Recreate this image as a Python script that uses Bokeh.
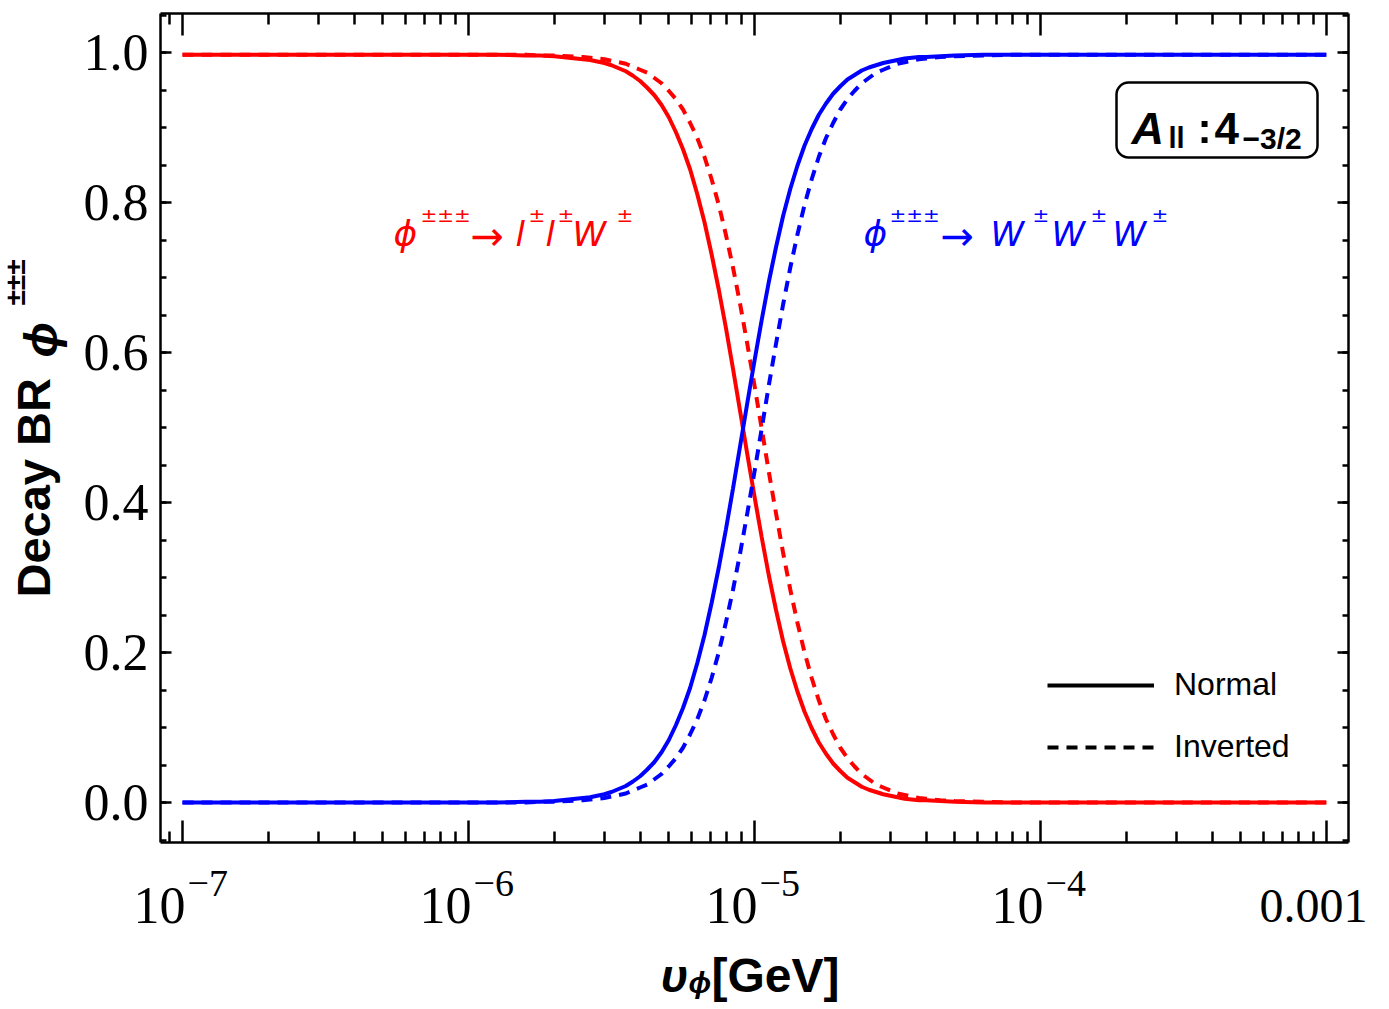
import numpy as np
from bokeh.plotting import figure
from bokeh.models import (LogAxis, LinearAxis, FixedTicker, CustomJSTickFormatter,
                          Label, BoxAnnotation, Legend, LegendItem, Range1d)
from bokeh.embed import file_html
from bokeh.resources import INLINE

# ---------------- data ----------------
log10_u_phi = [-7.0, -6.5, -6.2, -6.0, -5.9, -5.8, -5.75, -5.7, -5.65,
               -5.600, -5.575, -5.550, -5.525, -5.500, -5.475, -5.450, -5.425, -5.400, -5.375,
               -5.350, -5.325, -5.300, -5.275, -5.250, -5.225, -5.200, -5.175, -5.150, -5.125,
               -5.100, -5.075, -5.050, -5.025, -5.000, -4.975, -4.950, -4.925, -4.900, -4.875,
               -4.850, -4.825, -4.800, -4.775, -4.750, -4.725, -4.700, -4.675, -4.650, -4.625,
               -4.600, -4.575, -4.550, -4.525, -4.500, -4.475, -4.450, -4.425, -4.400,
               -4.35, -4.3, -4.2, -4.1, -4.0, -3.8, -3.5, -3.0]

br_llw_normal = [0.997, 0.997, 0.997, 0.997, 0.997, 0.996, 0.996, 0.995, 0.993,
                 0.991, 0.990, 0.988, 0.986, 0.983, 0.979, 0.975, 0.969, 0.962, 0.953,
                 0.943, 0.930, 0.914, 0.894, 0.871, 0.844, 0.811, 0.774, 0.731, 0.684,
                 0.633, 0.578, 0.521, 0.464, 0.408, 0.354, 0.303, 0.257, 0.215, 0.179,
                 0.148, 0.121, 0.099, 0.080, 0.065, 0.052, 0.042, 0.033, 0.027, 0.021,
                 0.017, 0.014, 0.011, 0.009, 0.007, 0.005, 0.004, 0.003, 0.003,
                 0.002, 0.001, 0.000, 0.000, 0.000, 0.000, 0.000, 0.000]

br_www_normal = [0.000, 0.000, 0.000, 0.000, 0.000, 0.001, 0.001, 0.002, 0.004,
                 0.006, 0.007, 0.009, 0.011, 0.014, 0.018, 0.022, 0.028, 0.035, 0.044,
                 0.054, 0.067, 0.083, 0.103, 0.126, 0.153, 0.186, 0.223, 0.266, 0.313,
                 0.364, 0.419, 0.476, 0.533, 0.589, 0.643, 0.694, 0.740, 0.782, 0.818,
                 0.849, 0.876, 0.898, 0.917, 0.932, 0.945, 0.955, 0.964, 0.970, 0.976,
                 0.980, 0.983, 0.986, 0.988, 0.990, 0.992, 0.993, 0.994, 0.994,
                 0.995, 0.996, 0.997, 0.997, 0.997, 0.997, 0.997, 0.997]

br_llw_inverted = [0.997, 0.997, 0.997, 0.997, 0.997, 0.997, 0.996, 0.996, 0.995,
                   0.994, 0.993, 0.992, 0.991, 0.989, 0.987, 0.985, 0.981, 0.977, 0.973,
                   0.966, 0.959, 0.949, 0.938, 0.924, 0.906, 0.886, 0.861, 0.831, 0.797,
                   0.757, 0.713, 0.664, 0.611, 0.556, 0.499, 0.441, 0.386, 0.333, 0.284,
                   0.240, 0.200, 0.166, 0.136, 0.111, 0.091, 0.073, 0.059, 0.048, 0.038,
                   0.031, 0.024, 0.020, 0.016, 0.012, 0.010, 0.008, 0.006, 0.005,
                   0.003, 0.002, 0.001, 0.000, 0.000, 0.000, 0.000, 0.000]

br_www_inverted = [0.000, 0.000, 0.000, 0.000, 0.000, 0.000, 0.001, 0.001, 0.002,
                   0.003, 0.004, 0.005, 0.006, 0.008, 0.010, 0.012, 0.016, 0.020, 0.024,
                   0.031, 0.038, 0.048, 0.059, 0.073, 0.091, 0.111, 0.136, 0.166, 0.200,
                   0.240, 0.284, 0.333, 0.386, 0.441, 0.498, 0.556, 0.611, 0.664, 0.713,
                   0.757, 0.797, 0.831, 0.861, 0.886, 0.906, 0.924, 0.938, 0.949, 0.959,
                   0.966, 0.973, 0.977, 0.981, 0.985, 0.987, 0.989, 0.991, 0.992,
                   0.994, 0.995, 0.996, 0.997, 0.997, 0.997, 0.997, 0.997]

x_major_ticks = [1e-7, 1e-6, 1e-5, 1e-4, 1e-3]
x_tick_base = ["10", "10", "10", "10", "0.001"]
x_tick_exp = ["\u22127", "\u22126", "\u22125", "\u22124", ""]
y_major_ticks = [0.0, 0.2, 0.4, 0.6, 0.8, 1.0]

u_phi = [10 ** v for v in log10_u_phi]

# ---------------- layout helpers (canvas pixel -> data) ----------------
def lx(px):
    return -7 + (px - 182) / 286.0

def vy(py):
    return (802 - py) / 750.0

def at(px, py):
    return 10 ** lx(px), vy(py)

W, H = 1389, 1009
XL, XR = 10 ** lx(160), 10 ** lx(1348)     # visible frame edges
YB, YT = vy(842), vy(12.5)

p = figure(width=W, height=H, x_axis_type="log",
           x_axis_location=None, y_axis_location=None,
           x_range=Range1d(10 ** lx(0), 10 ** lx(W)),
           y_range=Range1d(vy(H), vy(0)),
           output_backend="svg", toolbar_location=None,
           min_border=0, min_border_left=0, min_border_right=0,
           min_border_top=0, min_border_bottom=0)
p.grid.visible = False
p.outline_line_color = None
p.background_fill_color = "white"
p.border_fill_color = "white"

RED = "#ff0000"
BLUE = "#0000ff"
LW = 4
DASH = "11 8"

p.line(u_phi, br_llw_normal, line_color=RED, line_width=LW)
p.line(u_phi, br_llw_inverted, line_color=RED, line_width=LW, line_dash=DASH)
p.line(u_phi, br_www_normal, line_color=BLUE, line_width=LW)
p.line(u_phi, br_www_inverted, line_color=BLUE, line_width=LW, line_dash=DASH)

# legend samples (black)
leg_n = p.line([np.nan], [np.nan], line_color="black", line_width=LW)
leg_i = p.line([np.nan], [np.nan], line_color="black", line_width=LW, line_dash=DASH)
legend = Legend(items=[LegendItem(label="Normal", renderers=[leg_n]),
                       LegendItem(label="Inverted", renderers=[leg_i])],
                location=(1047, H - 765), padding=0, margin=0, spacing=25,
                glyph_width=107, glyph_height=30, label_height=30, label_standoff=20,
                label_text_font="Liberation Sans", label_text_font_size="32px",
                label_text_color="black",
                border_line_alpha=0, background_fill_alpha=0)
p.add_layout(legend, "center")

# ---------------- axes (frame drawn by four axes) ----------------
x_minor = [m * 10.0 ** e for e in range(-8, -3) for m in range(2, 10)]
x_minor = [t for t in x_minor if XL < t < XR]
y_minor = [round(-0.05 + 0.05 * i, 2) for i in range(23)]

def style_axis(ax, major_in, minor_in):
    ax.axis_line_width = 2.5
    ax.axis_line_color = "black"
    ax.major_tick_line_width = 2.5
    ax.minor_tick_line_width = 2.5
    ax.major_tick_line_color = "black"
    ax.minor_tick_line_color = "black"
    ax.major_tick_in = major_in
    ax.major_tick_out = 0
    ax.minor_tick_in = minor_in
    ax.minor_tick_out = 0

empty_fmt = CustomJSTickFormatter(code="return '';")

for side, loc in (("below", YB), ("above", YT)):
    ax = LogAxis(ticker=FixedTicker(ticks=x_major_ticks, minor_ticks=x_minor),
                 formatter=empty_fmt, fixed_location=loc, bounds=(XL, XR))
    style_axis(ax, 22, 11)
    p.add_layout(ax, side)

yl = LinearAxis(ticker=FixedTicker(ticks=y_major_ticks, minor_ticks=y_minor),
                formatter=CustomJSTickFormatter(code="return tick.toFixed(1);"),
                fixed_location=XL, bounds=(YB, YT))
yl.major_label_text_font = "Liberation Serif"
yl.major_label_text_font_size = "52px"
yl.major_label_text_color = "black"
yl.major_label_standoff = 12
style_axis(yl, 11, 6)
p.add_layout(yl, "left")

yr = LinearAxis(ticker=FixedTicker(ticks=y_major_ticks, minor_ticks=y_minor),
                formatter=empty_fmt, fixed_location=XR, bounds=(YB, YT))
style_axis(yr, 11, 6)
p.add_layout(yr, "right")

# ---------------- texts ----------------
def txt(px, py, s, size, color="black", font="Liberation Sans", style="normal",
        align="left", angle=0.0):
    x, y = at(px, py)
    p.add_layout(Label(x=x, y=y, text=s, text_font=font, text_font_size=f"{size}px",
                       text_font_style=style, text_color=color, text_align=align,
                       text_baseline="alphabetic", angle=angle))

# x tick labels
for t, b, e in zip(x_major_ticks, x_tick_base, x_tick_exp):
    if e:
        p.add_layout(Label(x=t, y=vy(905), text=b, text_font="Liberation Serif",
                           text_font_size="52px", text_align="right", x_offset=3,
                           text_baseline="alphabetic", text_color="black"))
        p.add_layout(Label(x=t, y=vy(883), text=e, text_font="Liberation Serif",
                           text_font_size="38px", text_align="left", x_offset=5,
                           text_baseline="alphabetic", text_color="black"))
    else:
        p.add_layout(Label(x=t, y=vy(905), text=b, text_font="Liberation Serif",
                           text_font_size="48px", text_align="center", x_offset=-13,
                           text_baseline="alphabetic", text_color="black"))

# x axis title: u_phi [GeV]
txt(660, 975, "\u03c5", 47, style="bold italic")
txt(688, 982, "\u03d5", 30, style="bold italic")
txt(711, 975, "[GeV]", 48, style="bold")

# y axis title (rotated)
ang = np.pi / 2
txt(33, 597, "Decay BR", 47, style="bold", angle=ang)
txt(40, 357, "\u03d5", 47, style="bold italic", angle=ang)
txt(15, 305, "\u00b1\u00b1\u00b1", 28, style="bold", angle=ang)

# red annotation
F = "DejaVu Sans"
MS, SS, AS = 34, 20, 40
txt(393, 233, "\u03d5", 36, RED, F, "italic")
txt(420, 214, "\u00b1\u00b1\u00b1", SS, RED, F)
txt(470, 235, "\u2192", AS, RED, F)
txt(515, 233, "l", MS, RED, F, "italic")
txt(528, 214, "\u00b1", SS, RED, F)
txt(545, 233, "l", MS, RED, F, "italic")
txt(557, 214, "\u00b1", SS, RED, F)
txt(572, 233, "W", MS, RED, F, "italic")
txt(616, 214, "\u00b1", SS, RED, F)

# blue annotation
txt(863, 233, "\u03d5", 36, BLUE, F, "italic")
txt(889, 214, "\u00b1\u00b1\u00b1", SS, BLUE, F)
txt(940, 235, "\u2192", AS, BLUE, F)
for wx, sx in [(990, 1032), (1051, 1090), (1112, 1151)]:
    txt(wx, 233, "W", MS, BLUE, F, "italic")
    txt(sx, 214, "\u00b1", SS, BLUE, F)

# model box
bl, bt = at(1116, 82)
br_, bb = at(1317, 157)
p.add_layout(BoxAnnotation(left=bl, right=br_, top=bt, bottom=bb,
                           fill_color="white", fill_alpha=1.0,
                           line_color="black", line_alpha=1.0, line_width=2.5,
                           border_radius=12))
txt(1131, 128, "A", 45, style="bold italic")
txt(1168, 137, "ll", 29, style="bold")
txt(1197, 128, ":", 42, style="bold")
txt(1214, 128, "4", 44, style="bold")
txt(1242, 138, "\u22123/2", 30, style="bold")

open("out.html", "w").write(file_html(p, INLINE))
